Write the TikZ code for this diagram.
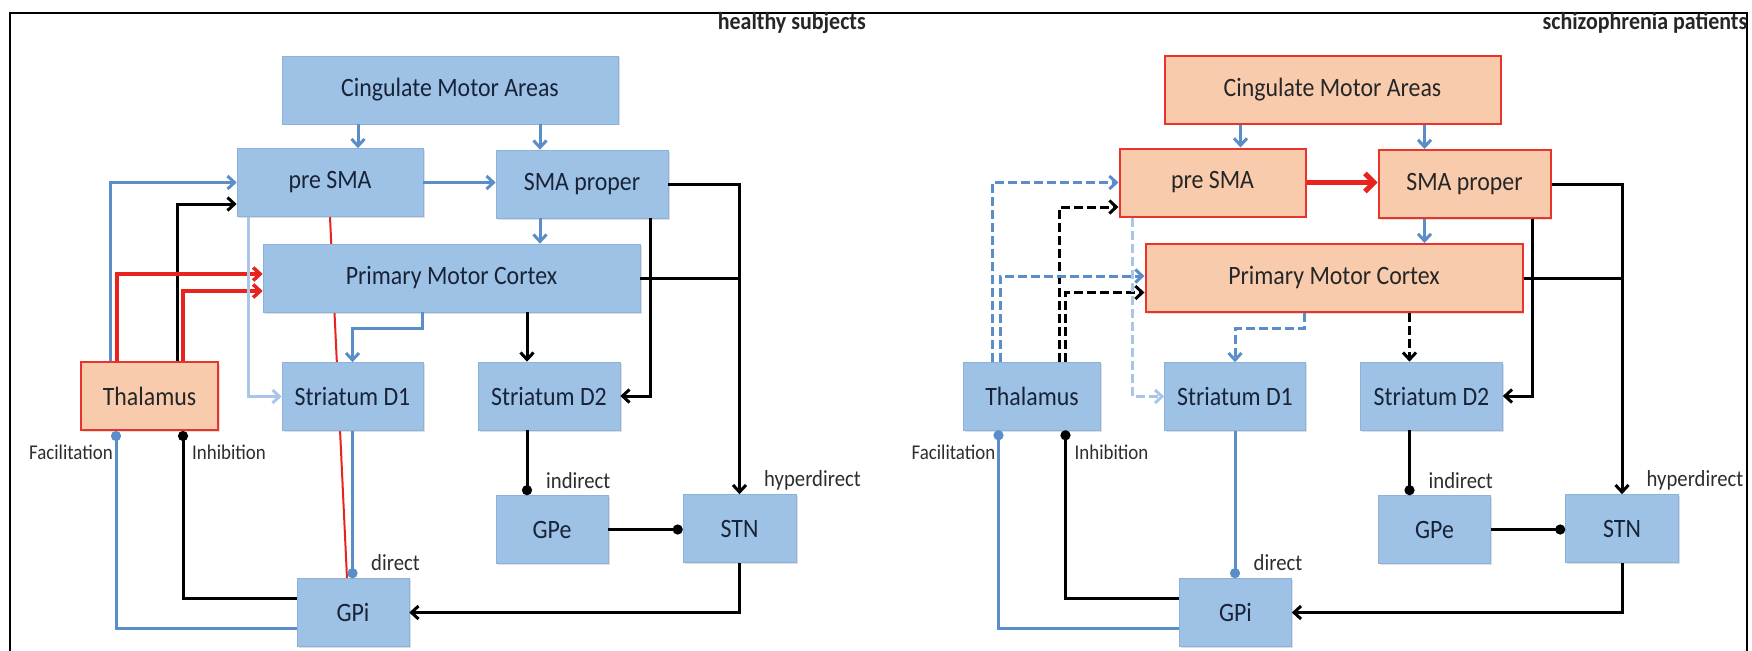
\documentclass[tikz,border=0pt]{standalone}
\usepackage{fontspec}
\setmainfont{Carlito}[FakeStretch=0.9]
\usetikzlibrary{arrows.meta,shadows}
\definecolor{boxblue}{RGB}{157,194,230}
\definecolor{boxedge}{RGB}{140,178,220}
\definecolor{orfill}{RGB}{248,203,173}
\definecolor{oredge}{RGB}{232,52,42}
\definecolor{lnblue}{RGB}{91,141,201}
\definecolor{lnlight}{RGB}{169,198,232}
\definecolor{lnred}{RGB}{232,35,30}
\definecolor{txt}{RGB}{25,35,55}
\definecolor{labtxt}{RGB}{45,45,45}
\pgfdeclarelayer{bg}
\pgfsetlayers{bg,main}
\tikzset{
  bx/.style={draw=boxedge, line width=0.6pt, fill=boxblue, minimum height=68pt, inner sep=0pt,
    text=txt, font=\fontsize{26.5}{30}\selectfont,
    drop shadow={opacity=0.25, shadow xshift=1.5pt, shadow yshift=-1.5pt}},
  ob/.style={bx, draw=oredge, line width=2pt, fill=orfill, text=black!85},
  lab/.style={inner sep=0pt, text=labtxt, font=\fontsize{21}{24}\selectfont},
  labb/.style={inner sep=0pt, text=labtxt, font=\fontsize{23}{26}\selectfont},
  ttl/.style={inner sep=0pt, text=black!85, font=\fontsize{24.4}{28}\selectfont\bfseries},
  tipA/.style={-{Straight Barb[length=7pt,width=13pt]}},
  tipD/.style={-{Circle[length=10pt]}},
  bluearr/.style={lnblue, line width=3pt, tipA},
  lightarr/.style={lnlight, line width=3pt, tipA},
  blackarr/.style={black, line width=3pt, tipA},
  blackline/.style={black, line width=3pt},
  redarr/.style={lnred, line width=3.5pt, tipA},
  bigred/.style={lnred, line width=5pt, -{Straight Barb[length=9pt,width=18pt]}},
  thinred/.style={lnred, line width=2pt},
  blackdot/.style={black, line width=3pt, tipD},
  bluedot/.style={lnblue, line width=3pt, tipD},
  dsh/.style={dash pattern=on 9pt off 4pt},
}
\begin{document}
\begin{tikzpicture}[x=1pt,y=-1pt]
\useasboundingbox (0,0) rectangle (1752,650);
\draw[line width=1.5pt] (10,13) rectangle (1747,665);

% ---------------- healthy subjects ----------------
\node[ttl, anchor=east] (Ltitle) at (866,23) {healthy subjects};
\node[bx, minimum width=336pt] (Lcma) at (450,90) {Cingulate Motor Areas};
\node[bx, minimum width=186pt] (Lpre) at (330,182.5) {pre SMA};
\node[bx, minimum width=172pt] (Lsma) at (582,184) {SMA proper};
\node[bx, minimum width=377pt] (Lpmc) at (451.5,278) {Primary Motor Cortex};
\node[ob, minimum width=137pt] (Lthal) at (149.5,396) {Thalamus};
\node[bx, minimum width=141pt] (Ld1) at (352.5,396.5) {Striatum D1};
\node[bx, minimum width=142pt] (Ld2) at (549,396) {Striatum D2};
\node[bx, minimum width=112pt] (Lgpe) at (552,529.5) {GPe};
\node[bx, minimum width=113pt] (Lstn) at (739.5,528.5) {STN};
\node[bx, minimum width=112pt] (Lgpi) at (353,612.5) {GPi};

\node[lab, anchor=east] (Lfac) at (113,452) {Facilitation};
\node[lab, anchor=west] (Linh) at (192,452) {Inhibition};
\node[labb, anchor=west] (Lind) at (546,481) {indirect};
\node[labb, anchor=west] (Lhyp) at (764,480) {hyperdirect};
\node[labb, anchor=west] (Ldir) at (371,563) {direct};

\begin{pgfonlayer}{bg}
\draw[thinred] (Lpre.south) -- ([xshift=-6pt]Lgpi.north);
\end{pgfonlayer}

\draw[bluearr] ([xshift=28pt]Lpre.north |- Lcma.south) -- ([xshift=28pt]Lpre.north);
\draw[bluearr] ([xshift=-42pt]Lsma.north |- Lcma.south) -- ([xshift=-42pt]Lsma.north);
\draw[bluearr] (Lpre.east) -- (Lsma.west |- Lpre.east);
\draw[bluearr] ([xshift=-42pt]Lsma.south) -- ([xshift=-42pt]Lsma.south |- Lpmc.north);
\draw[bluearr] ([xshift=-39.5pt]Lthal.north) |- (Lpre.west);
\draw[blackarr] ([xshift=27.5pt]Lthal.north) |- ([yshift=-21.5pt]Lpre.west);
\draw[redarr] ([xshift=-32.5pt]Lthal.north) |- ([yshift=4pt]Lpmc.west);
\draw[redarr] ([xshift=33.5pt]Lthal.north) |- ([yshift=-13pt]Lpmc.west);
\draw[lightarr] ([xshift=-82pt]Lpre.south) |- (Ld1.west);
\draw[bluearr] ([xshift=-29.5pt]Lpmc.south) |- ([yshift=34pt]Ld1.north) -- (Ld1.north);
\draw[blackarr] ([xshift=-22pt]Ld2.north |- Lpmc.south) -- ([xshift=-22pt]Ld2.north);
\draw[blackarr] ([xshift=68pt]Lsma.south) |- (Ld2.east);
\draw[blackarr] (Lsma.east) -| (Lstn.north);
\draw[blackline] (Lpmc.east) -- (Lpmc.east -| Lstn.north);
\draw[blackdot] ([xshift=-22pt]Ld2.south) -- ([xshift=-22pt]Ld2.south |- Lgpe.north);
\draw[blackdot] (Lgpe.east) -- (Lstn.west |- Lgpe.east);
\draw[blackarr] (Lstn.south) |- (Lgpi.east);
\draw[bluedot] (Ld1.south) -- (Ld1.south |- Lgpi.north);
\draw[blackdot] ([yshift=14pt]Lgpi.west) -| ([xshift=33.5pt]Lthal.south);
\draw[bluedot] ([yshift=-15.5pt]Lgpi.west) -| ([xshift=-33.5pt]Lthal.south);

% ---------------- schizophrenia patients ----------------
\begin{scope}[xshift=882.5pt]
\node[ttl, anchor=east] (Rtitle) at (865,23) {schizophrenia patients};
\node[ob, minimum width=336pt] (Rcma) at (450,90) {Cingulate Motor Areas};
\node[ob, minimum width=186pt] (Rpre) at (330,182.5) {pre SMA};
\node[ob, minimum width=172pt] (Rsma) at (582,184) {SMA proper};
\node[ob, minimum width=377pt] (Rpmc) at (451.5,278) {Primary Motor Cortex};
\node[bx, minimum width=137pt] (Rthal) at (149.5,396) {Thalamus};
\node[bx, minimum width=141pt] (Rd1) at (352.5,396.5) {Striatum D1};
\node[bx, minimum width=142pt] (Rd2) at (549,396) {Striatum D2};
\node[bx, minimum width=112pt] (Rgpe) at (552,529.5) {GPe};
\node[bx, minimum width=113pt] (Rstn) at (739.5,528.5) {STN};
\node[bx, minimum width=112pt] (Rgpi) at (353,612.5) {GPi};

\node[lab, anchor=east] (Rfac) at (113,452) {Facilitation};
\node[lab, anchor=west] (Rinh) at (192,452) {Inhibition};
\node[labb, anchor=west] (Rind) at (546,481) {indirect};
\node[labb, anchor=west] (Rhyp) at (764,480) {hyperdirect};
\node[labb, anchor=west] (Rdir) at (371,563) {direct};

\draw[bluearr] ([xshift=28pt]Rpre.north |- Rcma.south) -- ([xshift=28pt]Rpre.north);
\draw[bluearr] ([xshift=-40pt]Rsma.north |- Rcma.south) -- ([xshift=-40pt]Rsma.north);
\draw[bigred] (Rpre.east) -- (Rsma.west |- Rpre.east);
\draw[bluearr] ([xshift=-40pt]Rsma.south) -- ([xshift=-40pt]Rsma.south |- Rpmc.north);
\draw[bluearr, dsh] ([xshift=-39.5pt]Rthal.north) |- (Rpre.west);
\draw[blackarr, dsh] ([xshift=27.5pt]Rthal.north) |- ([yshift=-24.5pt]Rpre.west);
\draw[bluearr, dsh] ([xshift=-32pt]Rthal.north) |- ([yshift=2pt]Rpmc.west);
\draw[blackarr, dsh] ([xshift=33.5pt]Rthal.north) |- ([yshift=-14.5pt]Rpmc.west);
\draw[lightarr, dsh] ([xshift=-80pt]Rpre.south) |- (Rd1.west);
\draw[bluearr, dsh] ([xshift=-29.5pt]Rpmc.south) |- ([yshift=34pt]Rd1.north) -- (Rd1.north);
\draw[blackarr, dsh] ([xshift=-22pt]Rd2.north |- Rpmc.south) -- ([xshift=-22pt]Rd2.north);
\draw[blackarr] ([xshift=68pt]Rsma.south) |- (Rd2.east);
\draw[blackarr] (Rsma.east) -| (Rstn.north);
\draw[blackline] (Rpmc.east) -- (Rpmc.east -| Rstn.north);
\draw[blackdot] ([xshift=-22pt]Rd2.south) -- ([xshift=-22pt]Rd2.south |- Rgpe.north);
\draw[blackdot] (Rgpe.east) -- (Rstn.west |- Rgpe.east);
\draw[blackarr] (Rstn.south) |- (Rgpi.east);
\draw[bluedot] (Rd1.south) -- (Rd1.south |- Rgpi.north);
\draw[blackdot] ([yshift=14pt]Rgpi.west) -| ([xshift=33.5pt]Rthal.south);
\draw[bluedot] ([yshift=-15.5pt]Rgpi.west) -| ([xshift=-33.5pt]Rthal.south);
\end{scope}
\end{tikzpicture}
\end{document}
